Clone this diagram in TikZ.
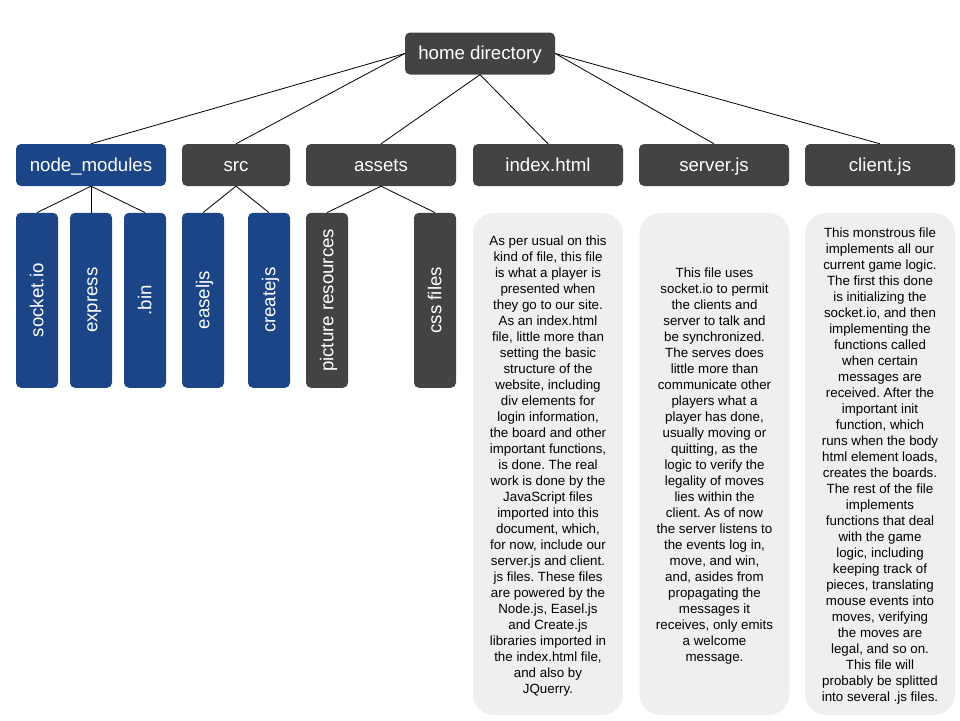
\documentclass[tikz,border=0pt]{standalone}
\usepackage{fontspec}
\setmainfont{Liberation Sans}
\frenchspacing
\definecolor{darkbox}{HTML}{434343}
\definecolor{bluebox}{HTML}{1C4587}
\definecolor{notefill}{HTML}{EFEFEF}
\begin{document}
\begin{tikzpicture}[x=1pt,y=-1pt,
  box/.style={rounded corners=5pt, inner sep=0pt, text=white,
    text height=16.9pt, text depth=3.96pt,
    font=\fontsize{18.67}{21}\selectfont},
  dirbox/.style={box, fill=darkbox, minimum width=150pt, minimum height=42pt},
  modbox/.style={box, fill=bluebox, minimum width=150pt, minimum height=42pt},
  tallbox/.style={box, rotate=90, minimum width=175pt, minimum height=42pt},
  note/.style={fill=notefill, rounded corners=21pt, inner sep=0pt,
    minimum width=150pt, minimum height=502pt, align=center, text=black,
    font=\fontsize{13.33}{16}\selectfont},
  link/.style={draw=black, line width=0.8pt}]
\useasboundingbox (0,0) rectangle (960,720);

% root
\node[dirbox] (home) at (480,53.5) {home directory};

% first level
\node[modbox] (nm) at (91,165) {node\_modules};
\node[dirbox, minimum width=108pt] (src) at (236,165) {src};
\node[dirbox] (assets) at (381,165) {assets};
\node[dirbox] (index) at (548,165) {index.html};
\node[dirbox] (server) at (714,165) {server.js};
\node[dirbox] (client) at (880,165) {client.js};

% second level (vertical labels)
\node[tallbox, fill=bluebox] (sock) at (37,300.3) {socket.io};
\node[tallbox, fill=bluebox] (expr) at (91,300.3) {express};
\node[tallbox, fill=bluebox] (bin) at (145,300.3) {.bin};
\node[tallbox, fill=bluebox] (easel) at (203,300.3) {easeljs};
\node[tallbox, fill=bluebox] (create) at (269,300.3) {createjs};
\node[tallbox, fill=darkbox] (pics) at (327,300.3) {picture resources};
\node[tallbox, fill=darkbox] (css) at (435,300.3) {css files};

% descriptions
\node[note] (indexnote) at (548,464) {\rule{0pt}{13pt}As per usual on this\\kind of file, this file\\is what a player is\\presented when\\they go to our site.\\As an index.html\\file, little more than\\setting the basic\\structure of the\\website, including\\div elements for\\login information,\\the board and other\\important functions,\\is done. The real\\work is done by the\\JavaScript files\\imported into this\\document, which,\\for now, include our\\server.js and client.\\js files. These files\\are powered by the\\Node.js, Easel.js\\and Create.js\\libraries imported in\\the index.html file,\\and also by\\JQuerry.};
\node[note] (servernote) at (714.5,464) {\rule{0pt}{13pt}This file uses\\socket.io to permit\\the clients and\\server to talk and\\be synchronized.\\The serves does\\little more than\\communicate other\\players what a\\player has done,\\usually moving or\\quitting, as the\\logic to verify the\\legality of moves\\lies within the\\client. As of now\\the server listens to\\the events log in,\\move, and win,\\and, asides from\\propagating the\\messages it\\receives, only emits\\a welcome\\message.};
\node[note] (clientnote) at (880,464) {\rule{0pt}{13pt}This monstrous file\\implements all our\\current game logic.\\The first this done\\is initializing the\\socket.io, and then\\implementing the\\functions called\\when certain\\messages are\\received. After the\\important init\\function, which\\runs when the body\\html element loads,\\creates the boards.\\The rest of the file\\implements\\functions that deal\\with the game\\logic, including\\keeping track of\\pieces, translating\\mouse events into\\moves, verifying\\the moves are\\legal, and so on.\\This file will\\probably be splitted\\into several .js files.};

% connectors
\draw[link] (home.west) -- (nm.north);
\draw[link] (home.west) -- (src.north);
\draw[link] (home.south) -- (assets.north);
\draw[link] (home.south) -- (index.north);
\draw[link] (home.east) -- (server.north);
\draw[link] (home.east) -- (client.north);

\draw[link] (nm.south) -- (sock.east);
\draw[link] (nm.south) -- (expr.east);
\draw[link] (nm.south) -- (bin.east);
\draw[link] (src.south) -- (easel.east);
\draw[link] (src.south) -- (create.east);
\draw[link] (assets.south) -- (pics.east);
\draw[link] (assets.south) -- (css.east);
\end{tikzpicture}
\end{document}
